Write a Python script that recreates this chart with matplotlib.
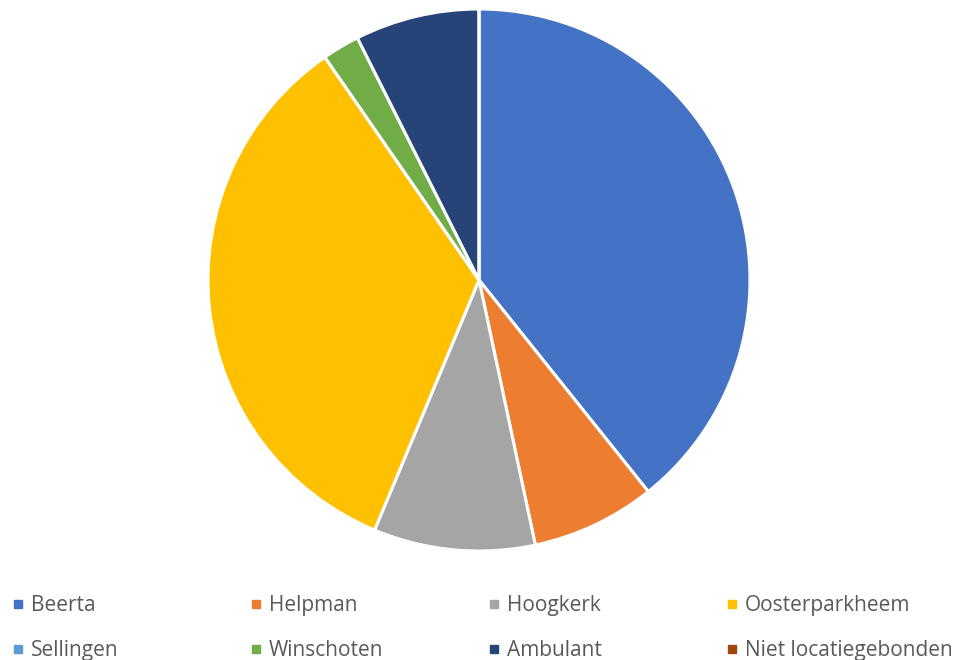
import matplotlib.pyplot as plt
from matplotlib.patches import Rectangle

labels = ['Beerta', 'Helpman', 'Hoogkerk', 'Oosterparkheem',
          'Sellingen', 'Winschoten', 'Ambulant', 'Niet locatiegebonden']
values = [53, 10, 13, 46, 0, 3, 10, 0]
colors = ['#4472C4', '#ED7D31', '#A5A5A5', '#FFC000',
          '#5B9BD5', '#70AD47', '#264478', '#9E480E']

plt.rcParams['font.family'] = ['Open Sans', 'DejaVu Sans']

W, H = 958, 660
fig = plt.figure(figsize=(W / 100, H / 100), dpi=100)

# pie area in pixels: x 208..750, y 9..551
ax = fig.add_axes([208 / W, (H - 551) / H, 542 / W, 542 / H])
ax.pie(values, colors=colors, startangle=90, counterclock=False,
       wedgeprops=dict(edgecolor='white', linewidth=2.2))
ax.set_xlim(-1, 1)
ax.set_ylim(-1, 1)
ax.set_aspect('equal')
ax.axis('off')

# legend, 4 columns x 2 rows
for i, (lab, col) in enumerate(zip(labels, colors)):
    r, c = divmod(i, 4)
    x0 = 14 + c * 238
    yc = 604 + r * 45
    fig.patches.append(Rectangle((x0 / W, 1 - (yc + 4) / H), 8 / W, 8 / H,
                                 transform=fig.transFigure, color=col))
    fig.text((x0 + 17) / W, 1 - (yc + 7) / H, lab, fontsize=15,
             color='#595959', va='baseline', ha='left')

fig.savefig('out.png', dpi=100)
